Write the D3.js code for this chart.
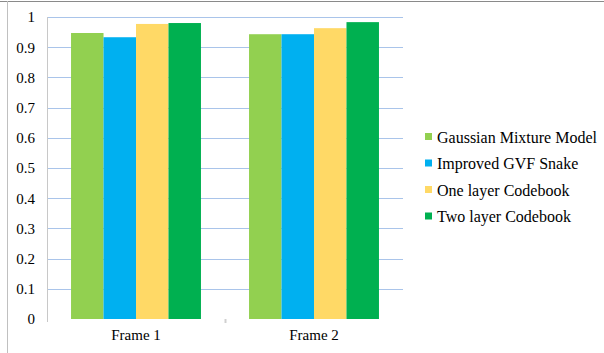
<!DOCTYPE html>
<html><head><meta charset="utf-8">
<script src="https://cdn.jsdelivr.net/npm/d3@7"></script>
<style>body{margin:0;background:#fff}svg{display:block}text{font-family:"Liberation Serif","Times New Roman",serif;}</style>
</head><body>
<svg id="c" width="604" height="353"></svg>
<script>
const categories = ["Frame 1", "Frame 2"];
const seriesNames = ["Gaussian Mixture Model", "Improved GVF Snake", "One layer Codebook", "Two layer Codebook"];
const gmm  = [0.947, 0.943];
const igvf = [0.933, 0.943];
const olc  = [0.977, 0.963];
const tlc  = [0.980, 0.983];
const yTicks = [0, 0.1, 0.2, 0.3, 0.4, 0.5, 0.6, 0.7, 0.8, 0.9, 1];
const colors = ["#92d050", "#00b0f0", "#ffd966", "#00b050"];
const seriesValues = [gmm, igvf, olc, tlc];

const svg = d3.select("#c");

// outer frame (top and left)
svg.append("line").attr("x1",0).attr("x2",604).attr("y1",1.5).attr("y2",1.5).attr("stroke","#8a8a8a").attr("stroke-width",1);
svg.append("line").attr("x1",7.5).attr("x2",7.5).attr("y1",1).attr("y2",353).attr("stroke","#c0c0c0").attr("stroke-width",1);

const x0 = d3.scaleBand().domain(categories).range([47, 403]).paddingInner(0).paddingOuter(0);
const x1 = d3.scaleBand().domain(seriesNames).range([0, x0.bandwidth()]).paddingOuter(0.74).paddingInner(0);
const y = d3.scaleLinear().domain([0, 1]).range([319, 17]);

// gridlines
svg.append("g").selectAll("line").data(yTicks.filter(d => d > 0)).join("line")
  .attr("x1", 47).attr("x2", 403)
  .attr("y1", d => Math.round(y(d)) + 0.5).attr("y2", d => Math.round(y(d)) + 0.5)
  .attr("stroke", "#a9c4ea").attr("stroke-width", 1);

// y axis
const yAxis = d3.axisLeft(y).tickValues(yTicks).tickFormat(d => d3.format("")(+d.toFixed(1))).tickSize(0).tickPadding(12);
const ya = svg.append("g").attr("transform", "translate(47,0)").call(yAxis);
ya.attr("font-family", null);
ya.select(".domain").attr("stroke", "#c8c8c8").attr("d", "M0.5,17V322");
ya.selectAll("text").attr("font-size", 15).attr("fill", "#000");

// bars
const groups = svg.append("g").selectAll("g").data(categories).join("g")
  .attr("transform", c => `translate(${x0(c)},0)`);
groups.selectAll("rect").data((c, i) => seriesNames.map((s, j) => ({s, j, v: seriesValues[j][i]}))).join("rect")
  .attr("x", d => x1(d.s)).attr("width", x1.bandwidth())
  .attr("y", d => y(d.v)).attr("height", d => y(0) - y(d.v))
  .attr("fill", d => colors[d.j]);

// x axis (ticks only)
const xAxis = d3.axisBottom(x0).tickSize(0).tickPadding(10);
const xa = svg.append("g").attr("transform", "translate(0,319)").call(xAxis);
xa.attr("font-family", null);
xa.select(".domain").remove();
xa.selectAll("text").attr("font-size", 15).attr("fill", "#000");
svg.append("line").attr("x1", x0("Frame 2") + 0.5).attr("x2", x0("Frame 2") + 0.5).attr("y1", 319).attr("y2", 323)
  .attr("stroke", "#d0d0d0").attr("stroke-width", 2);

// legend
const leg = svg.append("g").attr("transform", "translate(425,137)");
const li = leg.selectAll("g").data(seriesNames).join("g").attr("transform", (d, i) => `translate(0,${i * 26.5})`);
li.append("rect").attr("x", 0).attr("y", -4).attr("width", 7).attr("height", 7).attr("fill", (d, i) => colors[i]);
li.append("text").attr("x", 12).attr("y", 0).attr("dy", "0.35em").text(d => d)
  .attr("font-size", 16).attr("fill", "#000");
</script>
</body></html>
